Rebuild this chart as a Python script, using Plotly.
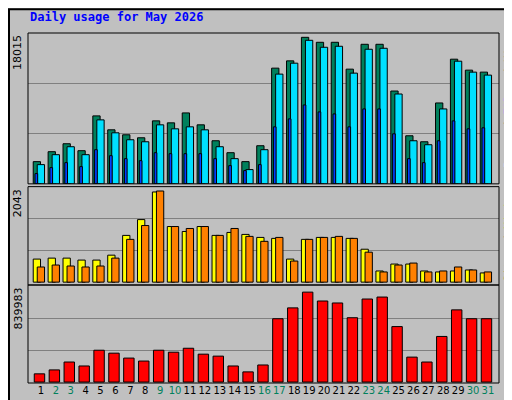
import plotly.graph_objects as go

days = list(range(1, 32))
hits = [2653,3840,4790,3959,8116,6453,5859,5503,7522,7285,8472,7047,5147,3721,2653,4553,13817,14688,17499,16905,16905,13698,16667,16667,11085,5741,5028,9660,14886,13579,13342]
files = [2296,3484,4434,3484,7641,6097,5265,5028,7047,6572,6809,6453,4434,3009,1702,4078,13104,14411,17142,16311,16430,13223,16073,16192,10729,5147,4672,8947,14648,13342,12985]
pages = [1227,1940,2534,2059,4078,3365,3009,2771,3721,3603,3603,3603,3009,2177,1584,2296,6809,7760,9422,8591,8353,6809,8947,8947,5978,3009,2534,5147,7522,6572,6691]
sites = [493,514,514,472,472,577,1000,1338,1929,1190,1084,1190,1000,1063,1021,957,936,493,915,957,957,936,704,239,387,387,239,218,239,260,197]
visits = [324,366,345,324,345,514,915,1211,1950,1190,1148,1190,1000,1148,979,873,957,451,915,957,979,936,641,218,366,408,218,239,324,260,218]
kbytes = [72425,107189,176717,141953,281009,254936,211481,185408,281009,263627,298391,246245,228863,141953,89807,150644,559121,654722,793778,715559,698177,567812,732941,750323,489593,220172,176717,402683,637340,559121,559121]
weekend = {2,3,9,10,16,17,23,24,30,31}
max_hits, max_visits, max_kb = 18015, 2043, 839983

fig = go.Figure()
line = dict(color="black", width=1)
def bar(y, color, off, w, ax):
    fig.add_trace(go.Bar(x=days, y=y, marker=dict(color=color, line=line), offset=off, width=w,
                         xaxis="x", yaxis=ax, hoverinfo="skip"))

bar(hits, "#00805c", -0.52, 0.49, "y")
bar(files, "#00e0ff", -0.25, 0.49, "y")
bar(pages, "#0040ff", -0.40, 0.18, "y")
bar(sites, "#ffff00", -0.52, 0.49, "y2")
bar(visits, "#ff8000", -0.25, 0.49, "y2")
bar(kbytes, "#ff0000", -0.45, 0.70, "y3")

ticktext = [f"<span style='color:{'#00805c' if d in weekend else 'black'}'>{d}</span>" for d in days]
yax = dict(showticklabels=False, ticks="", gridcolor="#808080", gridwidth=1, zeroline=False,
           showline=False, fixedrange=True)
fig.update_layout(
    width=512, height=400, margin=dict(l=20, r=21, t=25, b=22),
    paper_bgcolor="#c0c0c0", plot_bgcolor="#c0c0c0", showlegend=False, barmode="overlay",
    font=dict(family="DejaVu Sans", size=11, color="black"),
    xaxis=dict(range=[0.13, 31.74], tickvals=days, ticktext=ticktext, ticks="", showgrid=False,
               zeroline=False, showline=False, tickangle=0, tickfont=dict(size=10), anchor="y3"),
    yaxis=dict(domain=[0.569, 1], range=[0, max_hits], tickvals=[max_hits/3, 2*max_hits/3], **yax),
    yaxis2=dict(domain=[0.28, 0.561], range=[-max_visits*0.03, max_visits], tickvals=[max_visits/3, 2*max_visits/3], **yax),
    yaxis3=dict(domain=[0, 0.28], range=[-max_kb*0.01, max_kb*1.02], tickvals=[max_kb/3, 2*max_kb/3], **yax),
)

shapes = [
    dict(type="rect", xref="paper", yref="paper", x0=-19/471, x1=1+20/471, y0=-21/353, y1=1+24/353,
         line=dict(color="black", width=2)),
]
for d0, d1 in [(0.569, 1), (0.28, 0.561), (0, 0.28)]:
    shapes.append(dict(type="rect", xref="paper", yref="paper", x0=0, x1=1, y0=d0, y1=d1,
                       line=dict(color="black", width=1)))
fig.update_layout(shapes=shapes)

mono = "DejaVu Sans Mono"
ann = [
    dict(text="<b>Daily usage for May 2026</b>", x=0, y=1+16/353, xanchor="left", yanchor="middle",
         font=dict(family=mono, size=12, color="#0000ff")),
    dict(text="18015", x=0, xshift=-2, y=1, textangle=-90, xanchor="right", yanchor="top", font=dict(size=11)),
    dict(text="2043", x=0, xshift=-2, y=0.561, textangle=-90, xanchor="right", yanchor="top", font=dict(size=11)),
    dict(text="839983", x=0, xshift=-2, y=0.28, textangle=-90, xanchor="right", yanchor="top", font=dict(size=11)),
    dict(text="<span style='color:#00e0ff'>Pages</span> / <span style='color:#0040ff'>Files</span> / <span style='color:#00805c'>Hits</span>",
         x=1, xshift=1, y=1, textangle=-90, xanchor="left", yanchor="top", font=dict(family=mono, size=11)),
    dict(text="<span style='color:#ff8000'>Sites</span> / <span style='color:#ffff00'>Visits</span>",
         x=1, xshift=1, y=0.561, textangle=-90, xanchor="left", yanchor="top", font=dict(family=mono, size=11)),
    dict(text="<span style='color:#ff0000'>KBytes</span>",
         x=1, xshift=1, y=0.28, textangle=-90, xanchor="left", yanchor="top", font=dict(family=mono, size=11)),
]
for a in ann:
    a.update(xref="paper", yref="paper", showarrow=False)
fig.update_layout(annotations=ann)

fig.write_html("out.html")
